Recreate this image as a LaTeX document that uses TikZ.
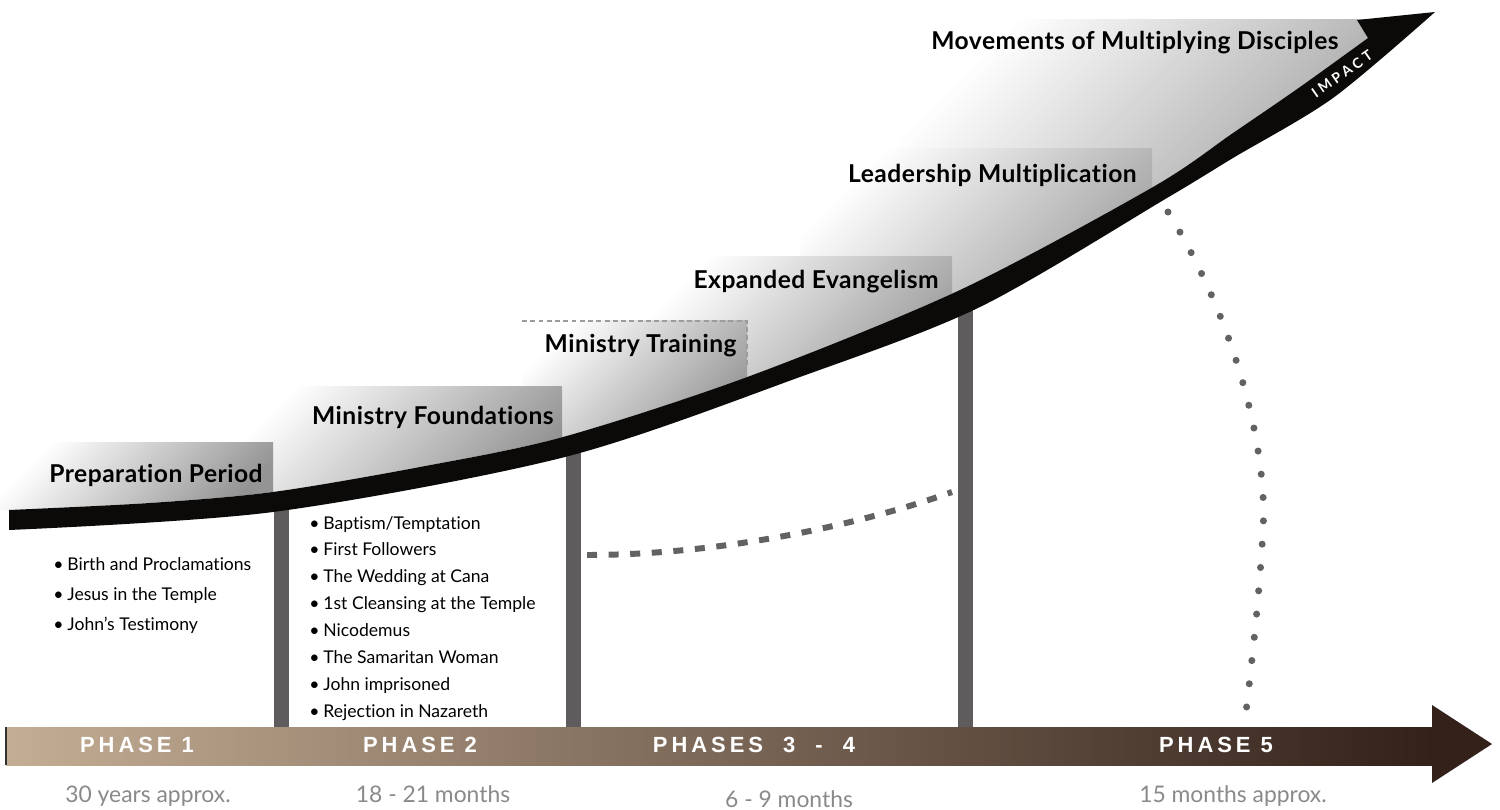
\documentclass[tikz,border=0pt]{standalone}
\usepackage{fontspec}
\setmainfont{Lato}[Ligatures=NoCommon]
\newfontfamily\headfont{Lato}[LetterSpace=2,Ligatures=NoCommon]
\newfontfamily\phasefont{Liberation Sans}[LetterSpace=18]
\newfontfamily\impactfont{Lato}[LetterSpace=25]
\usetikzlibrary{positioning,calc}
\definecolor{bandblack}{HTML}{0B0A09}
\definecolor{pillargray}{HTML}{5E5C5C}
\definecolor{durgray}{HTML}{8A8A8A}
\definecolor{curvegray}{HTML}{626262}
\definecolor{bracketgray}{HTML}{9C9C9C}
\definecolor{tanL}{HTML}{C3AD94}
\definecolor{brownM}{HTML}{775F4F}
\definecolor{brownR}{HTML}{33211A}
\tikzset{
  steplabel/.style={font=\headfont\fontsize{14}{16}\selectfont\bfseries, text=black, anchor=base east, inner sep=0pt},
  bullet/.style={font=\fontsize{10}{12}\selectfont, anchor=base west, inner sep=0pt},
  phaselabel/.style={font=\phasefont\fontsize{12.5}{14}\selectfont\bfseries, text=white, anchor=base, inner sep=0pt},
  duration/.style={font=\fontsize{13}{15}\selectfont, text=durgray, anchor=base, inner sep=0pt},
  impact/.style={font=\impactfont\fontsize{8}{9}\selectfont\bfseries, text=white, inner sep=0pt},
  pillar/.style={fill=pillargray},
  stepfill/.style={top color=white, bottom color=black!42, shading angle=45},
  dashcurve/.style={curvegray, line width=3.4pt, dash pattern=on 5.7pt off 6.6pt},
  dotcurve/.style={curvegray, line width=4pt, line cap=round, dash pattern=on 0pt off 13.3pt},
}
\newcommand{\bmark}{\makebox[8pt][l]{•}}

\begin{document}
\begin{tikzpicture}[x=0.02cm,y=-0.02cm]
\useasboundingbox (0,0) rectangle (1500,810);
\fill[white] (0,0) rectangle (1500,810);

% pillars under the curve
\fill[pillar] (274,500) rectangle (289,727);
\fill[pillar] (566,446) rectangle (581,727);
\fill[pillar] (958,300) rectangle (973,727);

% shaded steps above the curve
\begin{scope}
\clip plot[smooth] coordinates {(9,510) (150,503) (273,492) (420,467) (563,437) (750,376) (960,290) (1153,187) (1233,133) (1300,87) (1368,38)}
  -- (1500,38) -- (1500,0) -- (0,0) -- (0,510) -- cycle;
\shade[stepfill] (900,20) rectangle (1370,320);
\shade[stepfill] (800,149) rectangle (1152,360);
\shade[stepfill] (640,257) rectangle (952,412);
\shade[stepfill] (522,321) rectangle (747,445);
\shade[stepfill] (230,387) rectangle (562,495);
\shade[stepfill] (0,443) rectangle (273,512);
\end{scope}

% the curve
\fill[bandblack] plot[smooth] coordinates {(9,510) (150,503) (273,492) (420,467) (563,437) (750,376) (960,290) (1153,187) (1233,133) (1300,87) (1368,38)}
  -- (1357,20) -- (1435,12)
  -- plot[smooth] coordinates {(1435,12) (1333,98) (1233,158) (1167,198) (980,307) (800,377) (565,457) (273,512) (9,530)}
  -- cycle;
\node[impact, rotate=35] (impact) at (1342,74) {IMPACT};

% training bracket
\draw[bracketgray, line width=0.85pt, dash pattern=on 2.8pt off 1.9pt] (522,321) -- (747,321) -- (747,368);

% step labels
\node[steplabel] (prep) at (263,482) {Preparation Period};
\node[steplabel] (found) at (554,424) {Ministry Foundations};
\node[steplabel] (train) at (737,353) {Ministry Training};
\node[steplabel] (evang) at (939,289) {Expanded Evangelism};
\node[steplabel] (lead) at (1137,183) {Leadership Multiplication};
\node[steplabel] (move) at (1339,50) {Movements of Multiplying Disciples};

% events
\foreach \txt [count=\i] in {Birth and Proclamations, Jesus in the Temple, John’s Testimony}
  \node[bullet] (ev1-\i) at (53,540+30*\i) {\bmark\txt};
\foreach \txt [count=\i] in {Baptism/Temptation, First Followers, The Wedding at Cana, 1st Cleansing at the Temple, Nicodemus, The Samaritan Woman, John imprisoned, Rejection in Nazareth}
  \node[bullet] (ev2-\i) at (309,502.1+26.9*\i) {\bmark\txt};

% time line
\shade[left color=tanL, middle color=brownM, right color=brownR] (6,727) rectangle (1433,765);
\fill[brownR] (1432,705) -- (1492,744) -- (1432,783) -- cycle;
\draw[black!80, line width=0.6pt] (6,727) -- (6,765);
\node[phaselabel] (ph1) at (137,752) {PHASE 1};
\node[phaselabel] (ph2) at (420,752) {PHASE 2};
\node[phaselabel] (ph34) at (754,752) {PHASES~~3~~-~~4};
\node[phaselabel] (ph5) at (1216,752) {PHASE 5};
\node[duration] (d1) at (148,802) {30 years approx.};
\node[duration] (d2) at (433,802) {18 - 21 months};
\node[duration] (d34) at (789,807) {6 - 9 months};
\node[duration] (d5) at (1233,802) {15 months approx.};

% curves
\draw[dashcurve] (587,555) .. controls (720,555) and (860,525) .. (952,492);
\draw[dotcurve] (1168,212) .. controls (1235,320) and (1268,450) .. (1263,530) .. controls (1259,600) and (1252,660) .. (1245,721);
\end{tikzpicture}
\end{document}
